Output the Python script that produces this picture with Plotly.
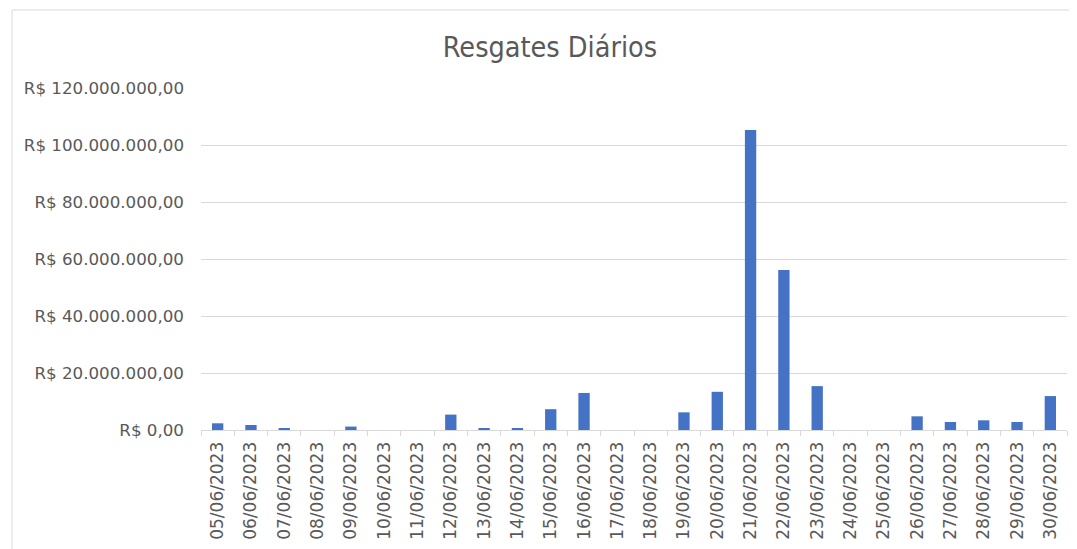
import plotly.graph_objects as go

dates = ["05/06/2023", "06/06/2023", "07/06/2023", "08/06/2023", "09/06/2023",
         "10/06/2023", "11/06/2023", "12/06/2023", "13/06/2023", "14/06/2023",
         "15/06/2023", "16/06/2023", "17/06/2023", "18/06/2023", "19/06/2023",
         "20/06/2023", "21/06/2023", "22/06/2023", "23/06/2023", "24/06/2023",
         "25/06/2023", "26/06/2023", "27/06/2023", "28/06/2023", "29/06/2023",
         "30/06/2023"]
resgates = [2.35e6, 1.75e6, 0.7e6, 0, 1.2e6,
            0, 0, 5.4e6, 0.6e6, 0.6e6,
            7.3e6, 13.0e6, 0, 0, 6.2e6,
            13.4e6, 105.3e6, 56.1e6, 15.4e6, 0,
            0, 4.8e6, 2.8e6, 3.4e6, 2.8e6,
            11.9e6]
y_tickvals = [0, 20e6, 40e6, 60e6, 80e6, 100e6, 120e6]
y_ticktext = ["R$ 0,00", "R$ 20.000.000,00", "R$ 40.000.000,00", "R$ 60.000.000,00",
              "R$ 80.000.000,00", "R$ 100.000.000,00", "R$ 120.000.000,00"]

fig = go.Figure(go.Bar(x=dates, y=resgates, marker_color="#4472C4",
                       marker_line_width=0))

font_family = "DejaVu Sans"
fig.update_layout(
    width=1069, height=541,
    margin=dict(l=193, r=10, t=80, b=119),
    paper_bgcolor="white", plot_bgcolor="white",
    bargap=0.66,
    showlegend=False,
    title=dict(text="Resgates Diários", x=0.507, xref="container", xanchor="center",
               y=0.928, yref="container", yanchor="middle",
               font=dict(family="DejaVu Sans Condensed", size=28.5, color="#595959")),
    font=dict(family=font_family, color="#595959"),
)
fig.update_xaxes(type="category", tickangle=-90, tickfont=dict(size=17, color="#595959"),
                 ticks="outside", tickson="boundaries", ticklen=5, tickcolor="#D9D9D9",
                 showline=True, linecolor="#D9D9D9", linewidth=1, showgrid=False,
                 ticklabelstandoff=4)
fig.update_yaxes(range=[0, 120e6], tickvals=y_tickvals, ticktext=y_ticktext,
                 tickfont=dict(size=16.7, color="#595959"), showgrid=True,
                 gridcolor="#D9D9D9", gridwidth=1, zeroline=False, ticks="",
                 ticklabelstandoff=16)
fig.add_shape(type="rect", xref="paper", yref="paper", x0=-0.2182, x1=1.3, y0=-0.6, y1=1.228,
              line=dict(color="#D9D9D9", width=1), fillcolor="rgba(0,0,0,0)", layer="below")

fig.write_html("out.html")
